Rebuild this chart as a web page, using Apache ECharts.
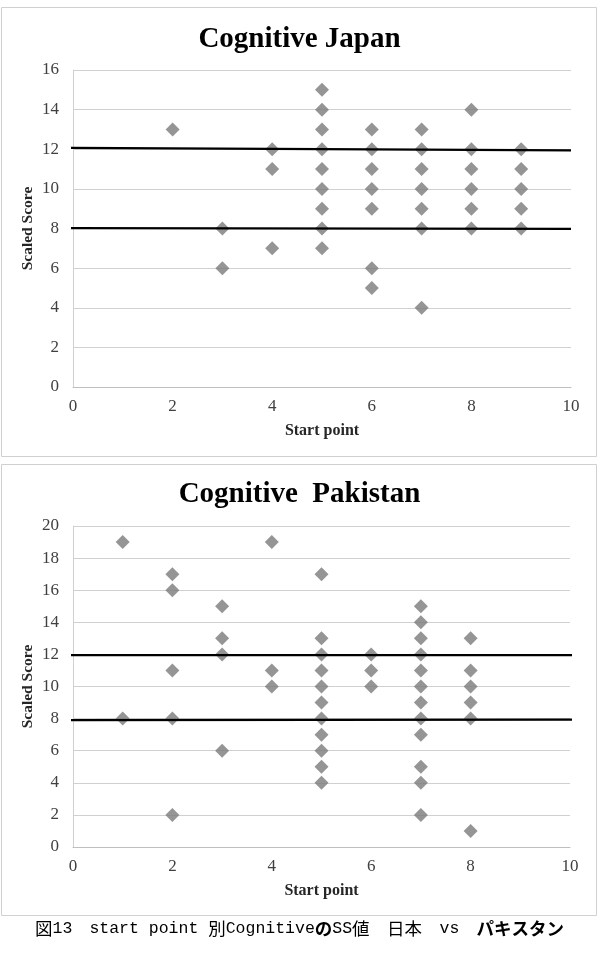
<!DOCTYPE html>
<html>
<head>
<meta charset="utf-8">
<script src="https://cdn.jsdelivr.net/npm/echarts@6/dist/echarts.min.js"></script>
<style>
html,body{margin:0;padding:0;background:#fff;}
#chart{width:599px;height:954px;}
</style>
</head>
<body>
<div id="chart"></div>
<script>
// ---- Data ----
var titleJapan = 'Cognitive Japan';
var titlePakistan = 'Cognitive  Pakistan';
var xAxisName = 'Start point';
var yAxisName = 'Scaled Score';
var xTicks = [0, 2, 4, 6, 8, 10];
var yTicksJapan = [0, 2, 4, 6, 8, 10, 12, 14, 16];
var yTicksPakistan = [0, 2, 4, 6, 8, 10, 12, 14, 16, 18, 20];

// Japan points: [start point, scaled score]
var japanPoints = [
  [2, 13],
  [3, 8], [3, 6],
  [4, 12], [4, 11], [4, 7],
  [5, 15], [5, 14], [5, 13], [5, 12], [5, 11], [5, 10], [5, 9], [5, 8], [5, 7],
  [6, 13], [6, 12], [6, 11], [6, 10], [6, 9], [6, 6], [6, 5],
  [7, 13], [7, 12], [7, 11], [7, 10], [7, 9], [7, 8], [7, 4],
  [8, 14], [8, 12], [8, 11], [8, 10], [8, 9], [8, 8],
  [9, 12], [9, 11], [9, 10], [9, 9], [9, 8]
];

// Pakistan points
var pakistanPoints = [
  [1, 19], [1, 8],
  [2, 17], [2, 16], [2, 11], [2, 8], [2, 2],
  [3, 15], [3, 13], [3, 12], [3, 6],
  [4, 19], [4, 11], [4, 10],
  [5, 17], [5, 13], [5, 12], [5, 11], [5, 10], [5, 9], [5, 8], [5, 7], [5, 6], [5, 5], [5, 4],
  [6, 12], [6, 11], [6, 10],
  [7, 15], [7, 14], [7, 13], [7, 12], [7, 11], [7, 10], [7, 9], [7, 8], [7, 7], [7, 5], [7, 4], [7, 2],
  [8, 13], [8, 11], [8, 10], [8, 9], [8, 8], [8, 1]
];

// Hand-drawn reference lines (two endpoints each)
var japanUpperLine = [[-0.1, 12.07], [10, 11.94]];
var japanLowerLine = [[-0.1, 8.02], [10, 7.98]];
var pakistanUpperLine = [[-0.12, 11.95], [10.06, 11.95]];
var pakistanLowerLine = [[-0.12, 7.9], [10.06, 7.93]];

// Caption
var captionParts = [
  ['k', '図'], ['m', '13　'], ['m', 'start point '], ['k', '別'], ['m', 'Cognitive'],
  ['b', 'の'], ['m', 'SS'], ['k', '値　日本　'], ['m', 'vs　'], ['b', 'パキスタン']
];

// ---- Chart ----
var chart = echarts.init(document.getElementById('chart'), null, {renderer: 'canvas'});
var serif = '"Liberation Serif", "DejaVu Serif", serif';
var markerColor = '#7a7a7a';

function xAxisCfg(gridIndex) {
  return {
    type: 'value', gridIndex: gridIndex, min: xTicks[0], max: xTicks[xTicks.length - 1], interval: 2,
    name: xAxisName, nameLocation: 'middle', nameGap: 36, nameMoveOverlap: false,
    nameTextStyle: {fontFamily: serif, fontWeight: 'bold', fontSize: 16, color: '#262626'},
    axisLine: {show: true, lineStyle: {color: '#bfbfbf', width: 1}},
    axisTick: {show: false},
    splitLine: {show: false},
    axisLabel: {fontFamily: serif, fontSize: 17, color: '#404040', margin: 11}
  };
}
function yAxisCfg(gridIndex, ticks) {
  return {
    type: 'value', gridIndex: gridIndex, min: ticks[0], max: ticks[ticks.length - 1], interval: 2,
    name: yAxisName, nameLocation: 'middle', nameGap: 37, nameRotate: 90, nameMoveOverlap: false,
    nameTextStyle: {fontFamily: serif, fontWeight: 'bold', fontSize: 15.5, color: '#262626'},
    axisLine: {show: true, lineStyle: {color: '#d0d0d0', width: 1}},
    axisTick: {show: false},
    splitLine: {show: true, lineStyle: {color: '#d0d0d0', width: 1}},
    axisLabel: {fontFamily: serif, fontSize: 17, color: '#404040', margin: 14}
  };
}
function scatter(idx, data) {
  return {
    type: 'scatter', xAxisIndex: idx, yAxisIndex: idx, data: data,
    symbol: 'diamond', symbolSize: 14,
    itemStyle: {color: markerColor}, z: 3
  };
}
function refLine(idx, data) {
  return {
    type: 'line', xAxisIndex: idx, yAxisIndex: idx, data: data,
    symbol: 'none', clip: false, silent: true,
    lineStyle: {color: '#000', width: 2.2}, z: 4
  };
}

var richStyles = {
  k: {fontFamily: '"Noto Sans CJK JP"', fontSize: 17.5, color: '#222'},
  m: {fontFamily: '"Liberation Mono", "DejaVu Sans Mono", monospace', fontSize: 16.5, color: '#222'},
  b: {fontFamily: '"Noto Sans CJK JP"', fontSize: 17.5, fontWeight: 'bold', color: '#000'}
};
var captionText = captionParts.map(function (p) { return '{' + p[0] + '|' + p[1] + '}'; }).join('');

var option = {
  backgroundColor: '#ffffff',
  animation: false,
  title: [
    {text: titleJapan, left: 'center', top: 20,
     textStyle: {fontFamily: serif, fontWeight: 'bold', fontSize: 29, color: '#000'}},
    {text: titlePakistan, left: 'center', top: 475,
     textStyle: {fontFamily: serif, fontWeight: 'bold', fontSize: 29, color: '#000'}}
  ],
  grid: [
    {left: 73, top: 70, width: 498, height: 317},
    {left: 73, top: 526, width: 497, height: 321}
  ],
  xAxis: [xAxisCfg(0), xAxisCfg(1)],
  yAxis: [yAxisCfg(0, yTicksJapan), yAxisCfg(1, yTicksPakistan)],
  series: [
    scatter(0, japanPoints),
    refLine(0, japanUpperLine),
    refLine(0, japanLowerLine),
    scatter(1, pakistanPoints),
    refLine(1, pakistanUpperLine),
    refLine(1, pakistanLowerLine)
  ],
  graphic: [
    {type: 'rect', shape: {x: 1.5, y: 7.5, width: 595, height: 449}, silent: true, z: -1,
     style: {fill: '#fff', stroke: '#d0d0d0', lineWidth: 1}},
    {type: 'rect', shape: {x: 1.5, y: 464.5, width: 595, height: 451}, silent: true, z: -1,
     style: {fill: '#fff', stroke: '#d0d0d0', lineWidth: 1}},
    {type: 'text', left: 'center', top: 920, z: 10,
     style: {text: captionText, rich: richStyles}}
  ]
};
chart.setOption(option);
</script>
</body>
</html>
